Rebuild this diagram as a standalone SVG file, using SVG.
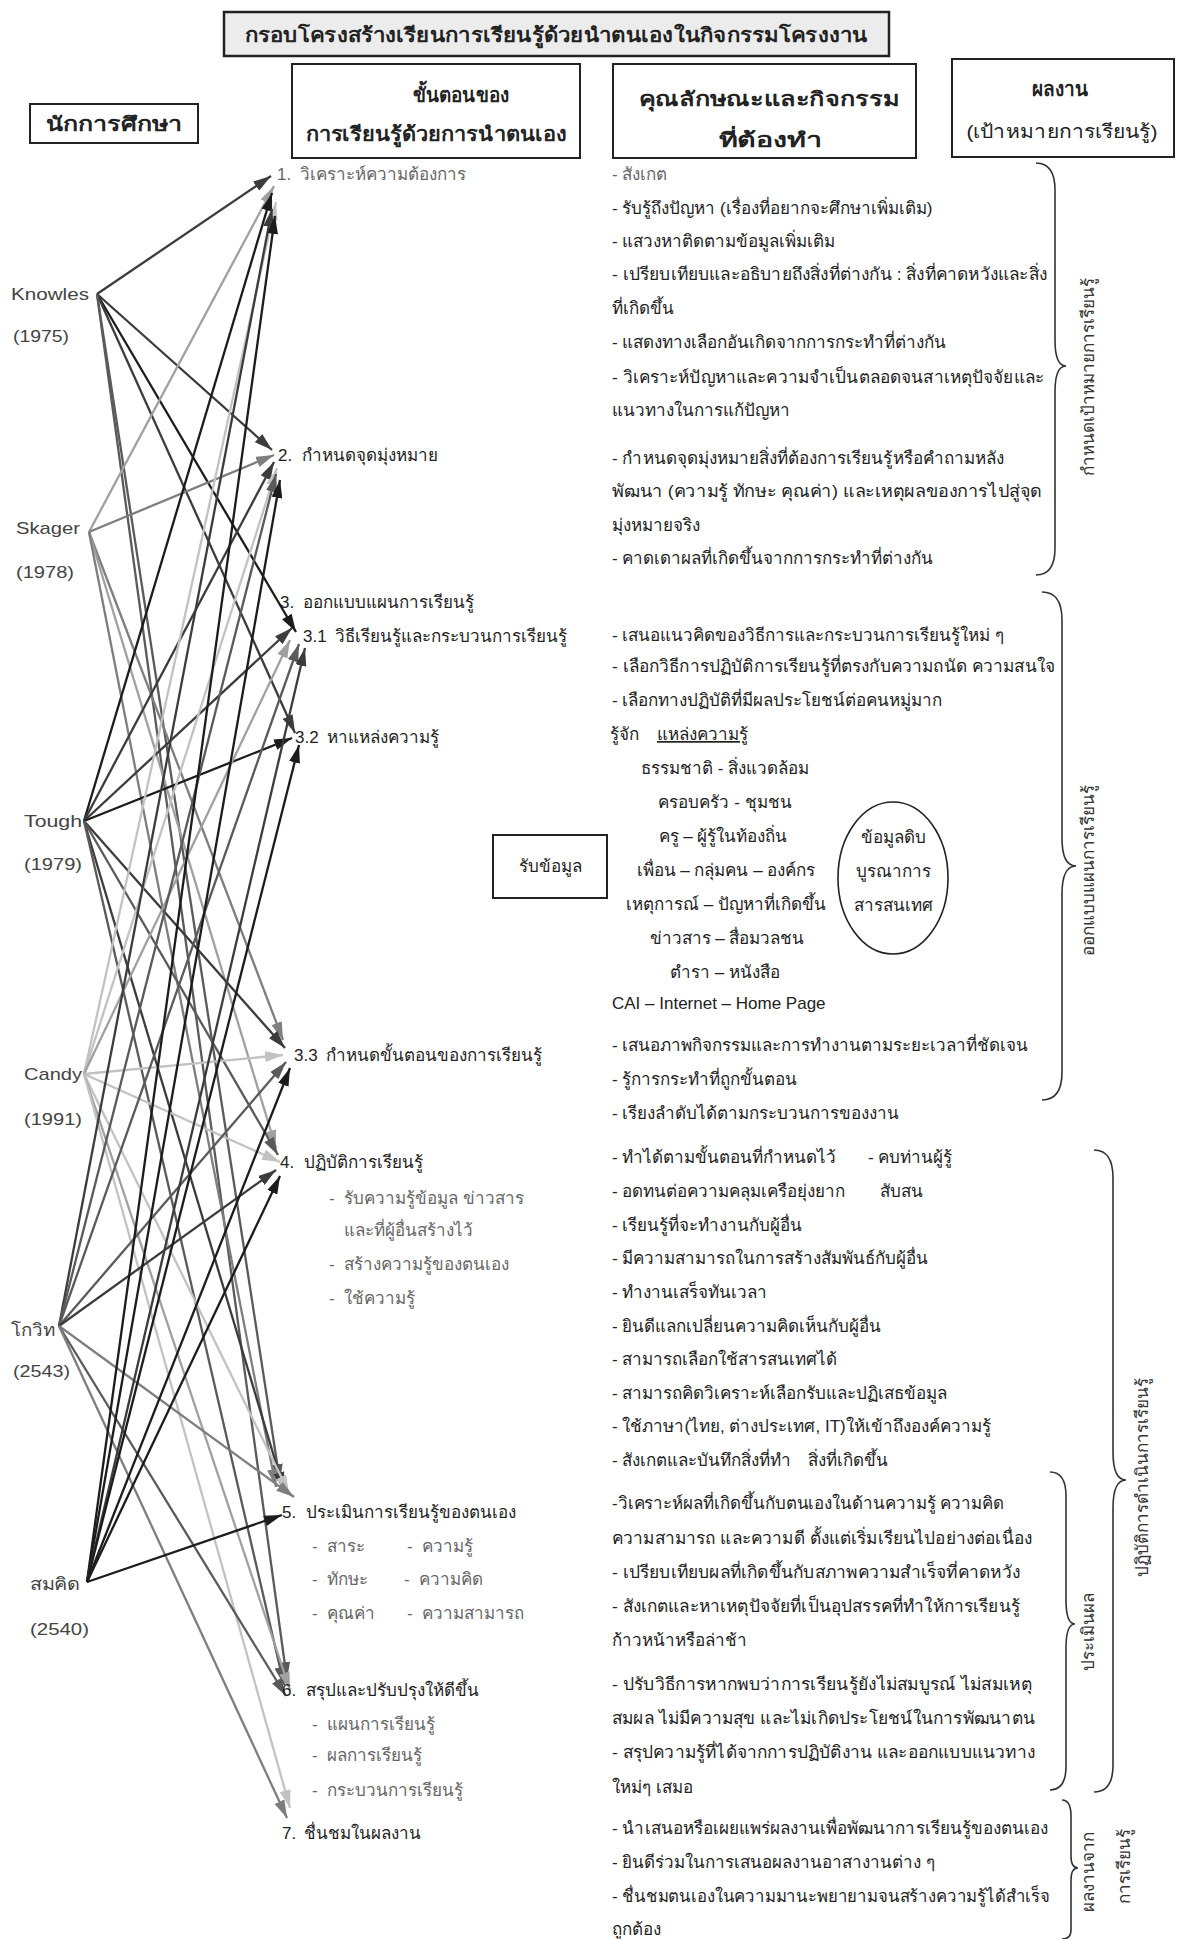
<svg xmlns="http://www.w3.org/2000/svg" width="1188" height="1939" viewBox="0 0 1188 1939">
<style>
text{font-family:"Liberation Sans","Noto Sans",sans-serif;fill:#222}
.b{font-size:17px}
.g{fill:#666}
.h{font-size:20px;font-weight:bold;text-anchor:middle}
.hn{font-size:19px;text-anchor:middle}
.nm{font-size:17px;fill:#444}
.st{font-size:17px}
.lb{font-size:17px;text-anchor:middle;fill:#333}
.box{fill:#fff;stroke:#222;stroke-width:2}
.br{fill:none;stroke:#333;stroke-width:1.6}
.c line{stroke-width:2.3}
.a1{stroke:#1c1c1c}.a2{stroke:#3c3c3c}.a3{stroke:#5a5a5a}.a4{stroke:#7e7e7e}.a5{stroke:#a0a0a0}.a6{stroke:#c2c2c2}
</style>
<defs>
<marker id="m1" viewBox="0 0 18 11" refX="18" refY="5.5" markerWidth="18" markerHeight="11" markerUnits="userSpaceOnUse" orient="auto"><path d="M0,0 L18,5.5 L0,11 z" fill="#1c1c1c"/></marker>
<marker id="m2" viewBox="0 0 18 11" refX="18" refY="5.5" markerWidth="18" markerHeight="11" markerUnits="userSpaceOnUse" orient="auto"><path d="M0,0 L18,5.5 L0,11 z" fill="#3c3c3c"/></marker>
<marker id="m3" viewBox="0 0 18 11" refX="18" refY="5.5" markerWidth="18" markerHeight="11" markerUnits="userSpaceOnUse" orient="auto"><path d="M0,0 L18,5.5 L0,11 z" fill="#5a5a5a"/></marker>
<marker id="m4" viewBox="0 0 18 11" refX="18" refY="5.5" markerWidth="18" markerHeight="11" markerUnits="userSpaceOnUse" orient="auto"><path d="M0,0 L18,5.5 L0,11 z" fill="#7e7e7e"/></marker>
<marker id="m5" viewBox="0 0 18 11" refX="18" refY="5.5" markerWidth="18" markerHeight="11" markerUnits="userSpaceOnUse" orient="auto"><path d="M0,0 L18,5.5 L0,11 z" fill="#a0a0a0"/></marker>
<marker id="m6" viewBox="0 0 18 11" refX="18" refY="5.5" markerWidth="18" markerHeight="11" markerUnits="userSpaceOnUse" orient="auto"><path d="M0,0 L18,5.5 L0,11 z" fill="#c2c2c2"/></marker>
</defs>
<rect width="1188" height="1939" fill="#fff"/>

<!-- Headers -->
<g id="title">
<rect x="224" y="12" width="665" height="44" fill="#ececec" stroke="#222" stroke-width="2.5"/>
<text class="h" x="556" y="42" font-size="22" textLength="623" lengthAdjust="spacingAndGlyphs">กรอบโครงสร้างเรียนการเรียนรู้ด้วยนำตนเองในกิจกรรมโครงงาน</text>
</g>
<g id="hdr-educators">
<rect class="box" x="30" y="104" width="168" height="39"/>
<text class="h" x="114" y="131" textLength="136" lengthAdjust="spacingAndGlyphs">นักการศึกษา</text>
</g>
<g id="hdr-steps">
<rect class="box" x="292" y="64" width="288" height="94"/>
<text class="h" x="461" y="102" textLength="97" lengthAdjust="spacingAndGlyphs">ขั้นตอนของ</text>
<text class="h" x="436" y="141" textLength="261" lengthAdjust="spacingAndGlyphs">การเรียนรู้ด้วยการนำตนเอง</text>
</g>
<g id="hdr-activities">
<rect class="box" x="613" y="64" width="303" height="94"/>
<text class="h" x="769" y="106" textLength="260" lengthAdjust="spacingAndGlyphs">คุณลักษณะและกิจกรรม</text>
<text class="h" x="770" y="147" textLength="103" lengthAdjust="spacingAndGlyphs">ที่ต้องทำ</text>
</g>
<g id="hdr-outcome">
<rect class="box" x="952" y="59" width="222" height="98"/>
<text class="h" x="1060" y="96" textLength="56" lengthAdjust="spacingAndGlyphs">ผลงาน</text>
<text class="hn" x="1062" y="138" textLength="191" lengthAdjust="spacingAndGlyphs">(เป้าหมายการเรียนรู้)</text>
</g>

<!-- Educators -->
<g id="knowles"><text class="nm" x="11" y="300" textLength="78" lengthAdjust="spacingAndGlyphs">Knowles</text><text class="nm" x="13" y="342" textLength="56" lengthAdjust="spacingAndGlyphs">(1975)</text></g>
<g id="skager"><text class="nm" x="16" y="534" textLength="64" lengthAdjust="spacingAndGlyphs">Skager</text><text class="nm" x="16" y="578" textLength="58" lengthAdjust="spacingAndGlyphs">(1978)</text></g>
<g id="tough"><text class="nm" x="24" y="827" textLength="58" lengthAdjust="spacingAndGlyphs">Tough</text><text class="nm" x="24" y="870" textLength="58" lengthAdjust="spacingAndGlyphs">(1979)</text></g>
<g id="candy"><text class="nm" x="24" y="1080" textLength="58" lengthAdjust="spacingAndGlyphs">Candy</text><text class="nm" x="24" y="1125" textLength="58" lengthAdjust="spacingAndGlyphs">(1991)</text></g>
<g id="kowit"><text class="nm" x="11" y="1336" textLength="44" lengthAdjust="spacingAndGlyphs">โกวิท</text><text class="nm" x="13" y="1377" textLength="57" lengthAdjust="spacingAndGlyphs">(2543)</text></g>
<g id="somkid"><text class="nm" x="30" y="1590" textLength="50" lengthAdjust="spacingAndGlyphs">สมคิด</text><text class="nm" x="30" y="1635" textLength="59" lengthAdjust="spacingAndGlyphs">(2540)</text></g>

<!-- Connectors -->
<g id="connectors" class="c">
<!-- Knowles (97,294) -->
<line class="a2" x1="97" y1="294" x2="271" y2="176" marker-end="url(#m2)"/>
<line class="a2" x1="97" y1="294" x2="272" y2="450" marker-end="url(#m2)"/>
<line class="a1" x1="97" y1="294" x2="296" y2="632" marker-end="url(#m1)"/>
<line class="a2" x1="97" y1="294" x2="295" y2="733" marker-end="url(#m2)"/>
<line class="a3" x1="97" y1="294" x2="280" y2="1482" marker-end="url(#m3)"/>
<line class="a3" x1="97" y1="294" x2="287" y2="1680" marker-end="url(#m3)"/>
<!-- Skager (89,532) -->
<line class="a5" x1="89" y1="532" x2="274" y2="186" marker-end="url(#m5)"/>
<line class="a4" x1="89" y1="532" x2="274" y2="455" marker-end="url(#m4)"/>
<line class="a4" x1="89" y1="532" x2="283" y2="1040" marker-end="url(#m4)"/>
<line class="a5" x1="89" y1="532" x2="276" y2="1148" marker-end="url(#m5)"/>
<line class="a4" x1="89" y1="532" x2="276" y2="1487" marker-end="url(#m4)"/>
<!-- Tough (84,821) -->
<line class="a1" x1="84" y1="821" x2="272" y2="193" marker-end="url(#m1)"/>
<line class="a2" x1="84" y1="821" x2="274" y2="462" marker-end="url(#m2)"/>
<line class="a2" x1="84" y1="821" x2="292" y2="628" marker-end="url(#m2)"/>
<line class="a1" x1="84" y1="821" x2="292" y2="738" marker-end="url(#m1)"/>
<line class="a2" x1="84" y1="821" x2="285" y2="1048" marker-end="url(#m2)"/>
<line class="a3" x1="84" y1="821" x2="278" y2="1155" marker-end="url(#m3)"/>
<line class="a2" x1="84" y1="821" x2="284" y2="1490" marker-end="url(#m2)"/>
<line class="a3" x1="84" y1="821" x2="284" y2="1685" marker-end="url(#m3)"/>
<!-- Candy (84,1074) -->
<line class="a6" x1="84" y1="1074" x2="276" y2="202" marker-end="url(#m6)"/>
<line class="a6" x1="84" y1="1074" x2="277" y2="468" marker-end="url(#m6)"/>
<line class="a5" x1="84" y1="1074" x2="290" y2="640" marker-end="url(#m5)"/>
<line class="a6" x1="84" y1="1074" x2="283" y2="1055" marker-end="url(#m6)"/>
<line class="a6" x1="84" y1="1074" x2="280" y2="1162" marker-end="url(#m6)"/>
<line class="a6" x1="84" y1="1074" x2="289" y2="1493" marker-end="url(#m6)"/>
<line class="a5" x1="84" y1="1074" x2="290" y2="1690" marker-end="url(#m5)"/>
<line class="a6" x1="84" y1="1074" x2="290" y2="1808" marker-end="url(#m6)"/>
<!-- Kowit (59,1326) -->
<line class="a2" x1="59" y1="1326" x2="272" y2="209" marker-end="url(#m2)"/>
<line class="a3" x1="59" y1="1326" x2="276" y2="474" marker-end="url(#m3)"/>
<line class="a3" x1="59" y1="1326" x2="299" y2="644" marker-end="url(#m3)"/>
<line class="a3" x1="59" y1="1326" x2="286" y2="1062" marker-end="url(#m3)"/>
<line class="a2" x1="59" y1="1326" x2="276" y2="1170" marker-end="url(#m2)"/>
<line class="a4" x1="59" y1="1326" x2="294" y2="1497" marker-end="url(#m4)"/>
<line class="a3" x1="59" y1="1326" x2="286" y2="1696" marker-end="url(#m3)"/>
<line class="a4" x1="59" y1="1326" x2="287" y2="1818" marker-end="url(#m4)"/>
<!-- Somkid (87,1582) -->
<line class="a1" x1="87" y1="1582" x2="275" y2="216" marker-end="url(#m1)"/>
<line class="a1" x1="87" y1="1582" x2="280" y2="480" marker-end="url(#m1)"/>
<line class="a2" x1="87" y1="1582" x2="305" y2="648" marker-end="url(#m2)"/>
<line class="a1" x1="87" y1="1582" x2="299" y2="745" marker-end="url(#m1)"/>
<line class="a1" x1="87" y1="1582" x2="290" y2="1068" marker-end="url(#m1)"/>
<line class="a1" x1="87" y1="1582" x2="280" y2="1176" marker-end="url(#m1)"/>
<line class="a1" x1="87" y1="1582" x2="282" y2="1515" marker-end="url(#m1)"/>
</g>

<!-- Steps -->
<g id="step1"><text class="st g" x="277" y="180">1.<tspan x="300">วิเคราะห์ความต้องการ</tspan></text></g>
<g id="step2"><text class="st" x="278" y="461">2.<tspan x="302">กำหนดจุดมุ่งหมาย</tspan></text></g>
<g id="step3"><text class="st" x="280" y="608">3.<tspan x="303">ออกแบบแผนการเรียนรู้</tspan></text></g>
<g id="step3-1"><text class="st" x="303" y="642">3.1<tspan x="335">วิธีเรียนรู้และกระบวนการเรียนรู้</tspan></text></g>
<g id="step3-2"><text class="st" x="295" y="743">3.2<tspan x="327">หาแหล่งความรู้</tspan></text></g>
<g id="step3-3"><text class="st" x="294" y="1061">3.3<tspan x="326">กำหนดขั้นตอนของการเรียนรู้</tspan></text></g>
<g id="step4">
<text class="st" x="280" y="1168">4.<tspan x="304">ปฏิบัติการเรียนรู้</tspan></text>
<text class="st g" x="329" y="1204">-<tspan x="344">รับความรู้ข้อมูล ข่าวสาร</tspan></text>
<text class="st g" x="344" y="1236">และที่ผู้อื่นสร้างไว้</text>
<text class="st g" x="329" y="1270">-<tspan x="344">สร้างความรู้ของตนเอง</tspan></text>
<text class="st g" x="329" y="1304">-<tspan x="344">ใช้ความรู้</tspan></text>
</g>
<g id="step5">
<text class="st" x="282" y="1518">5.<tspan x="306">ประเมินการเรียนรู้ของตนเอง</tspan></text>
<text class="st g" x="312" y="1552">-<tspan x="327">สาระ</tspan></text><text class="st g" x="407" y="1552">-<tspan x="422">ความรู้</tspan></text>
<text class="st g" x="312" y="1585">-<tspan x="327">ทักษะ</tspan></text><text class="st g" x="404" y="1585">-<tspan x="419">ความคิด</tspan></text>
<text class="st g" x="312" y="1619">-<tspan x="327">คุณค่า</tspan></text><text class="st g" x="407" y="1619">-<tspan x="422">ความสามารถ</tspan></text>
</g>
<g id="step6">
<text class="st" x="282" y="1696">6.<tspan x="306">สรุปและปรับปรุงให้ดีขึ้น</tspan></text>
<text class="st g" x="312" y="1730">-<tspan x="327">แผนการเรียนรู้</tspan></text>
<text class="st g" x="312" y="1761">-<tspan x="327">ผลการเรียนรู้</tspan></text>
<text class="st g" x="312" y="1796">-<tspan x="327">กระบวนการเรียนรู้</tspan></text>
</g>
<g id="step7"><text class="st" x="282" y="1839">7.<tspan x="304">ชื่นชมในผลงาน</tspan></text></g>

<!-- Activities -->
<g id="act1">
<text class="b g" x="612" y="180">-  สังเกต</text>
<text class="b" x="612" y="214">-  รับรู้ถึงปัญหา (เรื่องที่อยากจะศึกษาเพิ่มเติม)</text>
<text class="b" x="612" y="247">-  แสวงหาติดตามข้อมูลเพิ่มเติม</text>
<text class="b" x="612" y="280" textLength="435" lengthAdjust="spacingAndGlyphs">-  เปรียบเทียบและอธิบายถึงสิ่งที่ต่างกัน : สิ่งที่คาดหวังและสิ่ง</text>
<text class="b" x="612" y="314">ที่เกิดขึ้น</text>
<text class="b" x="612" y="348">-  แสดงทางเลือกอันเกิดจากการกระทำที่ต่างกัน</text>
<text class="b" x="612" y="383" textLength="432" lengthAdjust="spacingAndGlyphs">-  วิเคราะห์ปัญหาและความจำเป็นตลอดจนสาเหตุปัจจัยและ</text>
<text class="b" x="612" y="416">แนวทางในการแก้ปัญหา</text>
<text class="b" x="612" y="464" textLength="392" lengthAdjust="spacingAndGlyphs">-  กำหนดจุดมุ่งหมายสิ่งที่ต้องการเรียนรู้หรือคำถามหลัง</text>
<text class="b" x="612" y="497" textLength="430" lengthAdjust="spacingAndGlyphs">พัฒนา (ความรู้  ทักษะ  คุณค่า)  และเหตุผลของการไปสู่จุด</text>
<text class="b" x="612" y="531">มุ่งหมายจริง</text>
<text class="b" x="612" y="564">-  คาดเดาผลที่เกิดขึ้นจากการกระทำที่ต่างกัน</text>
</g>
<g id="act2">
<text class="b" x="612" y="641">-  เสนอแนวคิดของวิธีการและกระบวนการเรียนรู้ใหม่ ๆ</text>
<text class="b" x="612" y="672" textLength="443" lengthAdjust="spacingAndGlyphs">- เลือกวิธีการปฏิบัติการเรียนรู้ที่ตรงกับความถนัด  ความสนใจ</text>
<text class="b" x="612" y="706">-  เลือกทางปฏิบัติที่มีผลประโยชน์ต่อคนหมู่มาก</text>
<text class="b" x="610" y="740">รู้จัก<tspan x="657" text-decoration="underline">แหล่งความรู้</tspan></text>
<text class="b" x="725" y="774" text-anchor="middle">ธรรมชาติ - สิ่งแวดล้อม</text>
<text class="b" x="725" y="808" text-anchor="middle">ครอบครัว - ชุมชน</text>
<text class="b" x="723" y="842" text-anchor="middle">ครู – ผู้รู้ในท้องถิ่น</text>
<text class="b" x="726" y="876" text-anchor="middle">เพื่อน – กลุ่มคน – องค์กร</text>
<text class="b" x="726" y="910" text-anchor="middle">เหตุการณ์ – ปัญหาที่เกิดขึ้น</text>
<text class="b" x="727" y="944" text-anchor="middle">ข่าวสาร – สื่อมวลชน</text>
<text class="b" x="725" y="978" text-anchor="middle">ตำรา – หนังสือ</text>
<text class="b" x="612" y="1009">CAI – Internet – Home Page</text>
<text class="b" x="612" y="1051">-  เสนอภาพกิจกรรมและการทำงานตามระยะเวลาที่ชัดเจน</text>
<text class="b" x="612" y="1085">-  รู้การกระทำที่ถูกขั้นตอน</text>
<text class="b" x="612" y="1119">-  เรียงลำดับได้ตามกระบวนการของงาน</text>
</g>
<g id="receive-box">
<rect class="box" x="493" y="835" width="114" height="63"/>
<text class="b" x="550" y="872" text-anchor="middle">รับข้อมูล</text>
</g>
<g id="info-ellipse">
<ellipse cx="893" cy="878" rx="55" ry="76" fill="none" stroke="#222" stroke-width="1.6"/>
<text class="b" x="893" y="843" text-anchor="middle">ข้อมูลดิบ</text>
<text class="b" x="893" y="877" text-anchor="middle">บูรณาการ</text>
<text class="b" x="893" y="911" text-anchor="middle">สารสนเทศ</text>
</g>
<g id="act3">
<text class="b" x="612" y="1163">-  ทำได้ตามขั้นตอนที่กำหนดไว้<tspan x="868">-  คบท่านผู้รู้</tspan></text>
<text class="b" x="612" y="1197">-  อดทนต่อความคลุมเครือยุ่งยาก<tspan x="880">สับสน</tspan></text>
<text class="b" x="612" y="1231">-  เรียนรู้ที่จะทำงานกับผู้อื่น</text>
<text class="b" x="612" y="1264">-  มีความสามารถในการสร้างสัมพันธ์กับผู้อื่น</text>
<text class="b" x="612" y="1298">-  ทำงานเสร็จทันเวลา</text>
<text class="b" x="612" y="1332">-  ยินดีแลกเปลี่ยนความคิดเห็นกับผู้อื่น</text>
<text class="b" x="612" y="1365">-  สามารถเลือกใช้สารสนเทศได้</text>
<text class="b" x="612" y="1399">-  สามารถคิดวิเคราะห์เลือกรับและปฏิเสธข้อมูล</text>
<text class="b" x="612" y="1432">-  ใช้ภาษา(ไทย,  ต่างประเทศ,  IT)ให้เข้าถึงองค์ความรู้</text>
<text class="b" x="612" y="1466">-  สังเกตและบันทึกสิ่งที่ทำ<tspan x="808">สิ่งที่เกิดขึ้น</tspan></text>
</g>
<g id="act4">
<text class="b" x="612" y="1509" textLength="392" lengthAdjust="spacingAndGlyphs">-วิเคราะห์ผลที่เกิดขึ้นกับตนเองในด้านความรู้  ความคิด</text>
<text class="b" x="612" y="1544" textLength="420" lengthAdjust="spacingAndGlyphs">ความสามารถ  และความดี  ตั้งแต่เริ่มเรียนไปอย่างต่อเนื่อง</text>
<text class="b" x="612" y="1578" textLength="408" lengthAdjust="spacingAndGlyphs">-  เปรียบเทียบผลที่เกิดขึ้นกับสภาพความสำเร็จที่คาดหวัง</text>
<text class="b" x="612" y="1612" textLength="408" lengthAdjust="spacingAndGlyphs">-  สังเกตและหาเหตุปัจจัยที่เป็นอุปสรรคที่ทำให้การเรียนรู้</text>
<text class="b" x="612" y="1646">ก้าวหน้าหรือล่าช้า</text>
<text class="b" x="612" y="1690" textLength="420" lengthAdjust="spacingAndGlyphs">-  ปรับวิธีการหากพบว่าการเรียนรู้ยังไม่สมบูรณ์  ไม่สมเหตุ</text>
<text class="b" x="612" y="1724" textLength="423" lengthAdjust="spacingAndGlyphs">สมผล  ไม่มีความสุข  และไม่เกิดประโยชน์ในการพัฒนาตน</text>
<text class="b" x="612" y="1758" textLength="423" lengthAdjust="spacingAndGlyphs">-  สรุปความรู้ที่ได้จากการปฏิบัติงาน  และออกแบบแนวทาง</text>
<text class="b" x="612" y="1793">ใหม่ๆ เสมอ</text>
<text class="b" x="612" y="1834" textLength="436" lengthAdjust="spacingAndGlyphs">-  นำเสนอหรือเผยแพร่ผลงานเพื่อพัฒนาการเรียนรู้ของตนเอง</text>
<text class="b" x="612" y="1868">-  ยินดีร่วมในการเสนอผลงานอาสางานต่าง ๆ</text>
<text class="b" x="612" y="1902" textLength="438" lengthAdjust="spacingAndGlyphs">-  ชื่นชมตนเองในความมานะพยายามจนสร้างความรู้ได้สำเร็จ</text>
<text class="b" x="612" y="1935">ถูกต้อง</text>
</g>

<!-- Outcome braces -->
<g id="goal-set">
<path class="br" d="M1036,163 Q1055,163 1055,190 L1055,340 Q1055,366 1066,366 Q1055,366 1055,392 L1055,548 Q1055,575 1036,575"/>
<text class="lb" transform="translate(1094,377) rotate(-90)">กำหนดเป้าหมายการเรียนรู้</text>
</g>
<g id="plan">
<path class="br" d="M1042,592 Q1062,592 1062,620 L1062,838 Q1062,866 1076,866 Q1062,866 1062,894 L1062,1072 Q1062,1100 1042,1100"/>
<text class="lb" transform="translate(1094,870) rotate(-90)">ออกแบบแผนการเรียนรู้</text>
</g>
<g id="practice">
<path class="br" d="M1094,1150 Q1113,1150 1113,1178 L1113,1452 Q1113,1480 1126,1480 Q1113,1480 1113,1508 L1113,1765 Q1113,1792 1094,1792"/>
<text class="lb" transform="translate(1148,1477) rotate(-90)">ปฏิบัติการดำเนินการเรียนรู้</text>
</g>
<g id="evaluate">
<path class="br" d="M1050,1472 Q1066,1472 1066,1496 L1066,1600 Q1066,1624 1075,1624 Q1066,1624 1066,1648 L1066,1766 Q1066,1790 1050,1790"/>
<text class="lb" transform="translate(1094,1632) rotate(-90)">ประเมินผล</text>
</g>
<g id="result">
<path class="br" d="M1062,1800 Q1071,1800 1071,1816 L1071,1856 Q1071,1868 1078,1868 Q1071,1868 1071,1880 L1071,1930 Q1071,1939 1062,1939"/>
<text class="lb" transform="translate(1094,1872) rotate(-90)">ผลงานจาก</text>
<text class="lb" transform="translate(1130,1866) rotate(-90)">การเรียนรู้</text>
</g>
</svg>
